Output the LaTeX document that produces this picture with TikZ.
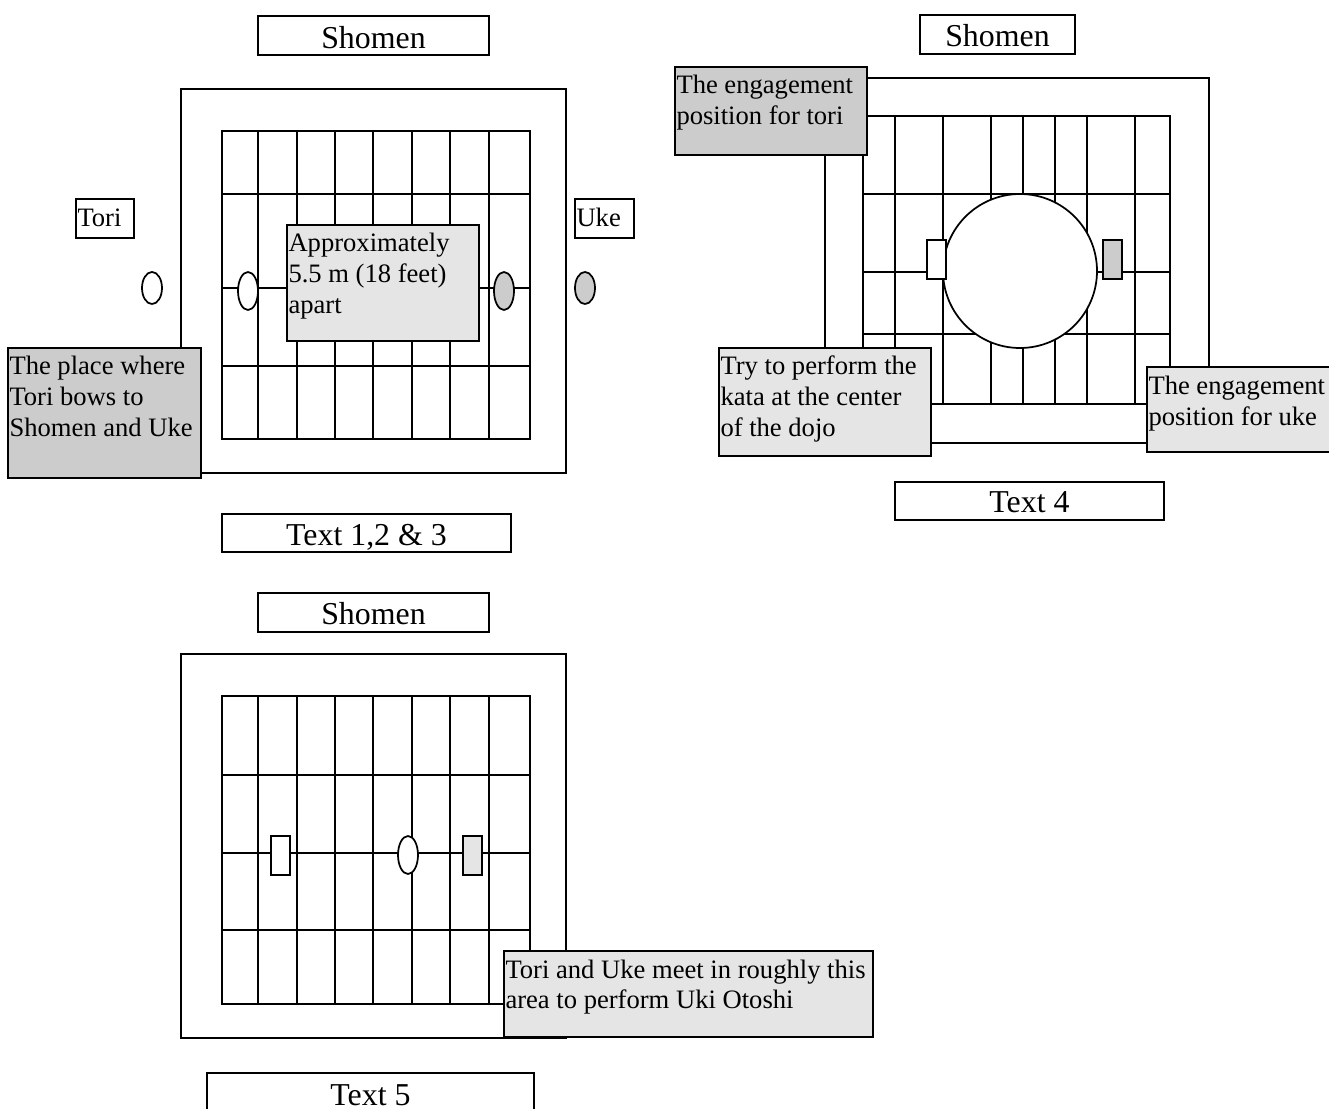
\documentclass[tikz,border=0pt]{standalone}
\usepackage{fontspec}
\setmainfont{Liberation Serif}
\usetikzlibrary{shapes.geometric}
\newlength\pxu
\setlength\pxu{0.75pt}
\definecolor{darkfill}{HTML}{CCCCCC}
\definecolor{lightfill}{HTML}{E5E5E5}
\tikzset{
  ln/.style={draw=black,line width=1.3pt},
  tbox/.style={ln,inner sep=0pt,outer sep=0pt,anchor=north west},
  oval/.style={ln,ellipse,inner sep=0pt,outer sep=0pt,minimum width=20\pxu,fill=white},
  small oval/.style={oval,minimum height=32\pxu},
  tall oval/.style={oval,minimum height=38\pxu},
  marker/.style={ln,rectangle,inner sep=0pt,outer sep=0pt,minimum width=19\pxu,minimum height=39\pxu,fill=white}
}
% name, x, y, width, height, fill, first baseline, text
\newcommand\tb[8]{%
  \node[tbox,fill=#6] (#1) at (#2,#3) {\parbox[c][#5\pxu][t]{#4\pxu}{\fontsize{19.95pt}{23pt}\selectfont\leftskip=1.5\pxu\relax\leavevmode\rule{0pt}{#7\pxu}#8}};}
\newcommand\tc[8]{%
  \node[tbox,fill=#6] (#1) at (#2,#3) {\parbox[c][#5\pxu][t]{#4\pxu}{\fontsize{23.9pt}{27pt}\selectfont\centering\leavevmode\rule{0pt}{#7\pxu}#8\par}};}
\newcommand\dojo[8]{%
  \draw[ln] (#1,#3) rectangle (#2,#4);
  \foreach \v in {#5} \draw[ln] (\v,#3) -- (\v,#4);
  \foreach \h in {#6} \draw[ln] (#1,\h) -- (#2,\h);
  \draw[ln] (#7) rectangle (#8);}
\begin{document}
\begin{tikzpicture}[x=0.75pt,y=-0.75pt]
\path[use as bounding box,clip] (0,0) rectangle (1329,1109);
\fill[white] (0,0) rectangle (1329,1109);
% Panel 1
\dojo{222}{530}{131}{439}{258,297,335,373,412,450,489}{194,288,366}{181,89}{566,473}
\tc{shomenA}{258}{16}{231}{39}{white}{33}{Shomen}
\tb{tori}{76}{199}{58}{39}{white}{28}{Tori}
\tb{uke}{575}{199}{59}{39}{white}{28}{Uke}
\node[small oval] (ovalA) at (152,288) {};
\node[tall oval] (ovalB) at (248,291) {};
\node[tall oval,fill=darkfill] (ovalC) at (504,291) {};
\node[small oval,fill=darkfill] (ovalD) at (585,288) {};
\tb{apart}{287}{225}{192}{116}{lightfill}{27}{Approximately\\5.5 m (18 feet)\\apart}
\tb{bows}{8}{348}{193}{130}{darkfill}{27}{The place where\\Tori bows to\\Shomen and Uke}
\tc{textA}{222}{514}{289}{38}{white}{31}{Text 1,2 \& 3}
% Panel 2
\dojo{863}{1170}{116}{404}{895,943,991,1023,1055,1087,1135}{194,272,334}{825,78}{1209,443}
\tc{shomenB}{920}{15}{155}{39}{white}{32}{Shomen}
\node[ln,circle,fill=white,inner sep=0pt,minimum size=154\pxu] (ring) at (1020,271) {};
\node[marker] (markA) at (936.5,259.5) {};
\node[marker,fill=darkfill] (markB) at (1112.5,259.5) {};
\tb{engTori}{675}{67}{192}{88}{darkfill}{27}{The engagement\\position for tori}
\tb{center}{719}{348}{212}{108}{lightfill}{27}{Try to perform the\\kata at the center\\of the dojo}
\tb{engUke}{1147}{367}{195}{85}{lightfill}{28}{The engagement\\position for uke}
\tc{textB}{895}{482}{269}{38}{white}{30}{Text 4}
% Panel 3
\dojo{222}{530}{696}{1004}{258,297,335,373,412,450,489}{775,853,930}{181,654}{566,1038}
\tc{shomenC}{258}{593}{231}{39}{white}{31}{Shomen}
\node[marker] (markC) at (280.5,855.5) {};
\node[tall oval] (ovalE) at (408,855) {};
\node[marker,fill=lightfill] (markD) at (472.5,855.5) {};
\tb{meet}{504}{951}{369}{86}{lightfill}{27}{Tori and Uke meet in roughly this\\area to perform Uki Otoshi}
\tc{textC}{207}{1073}{327}{60}{white}{32}{Text 5}
\end{tikzpicture}
\end{document}
